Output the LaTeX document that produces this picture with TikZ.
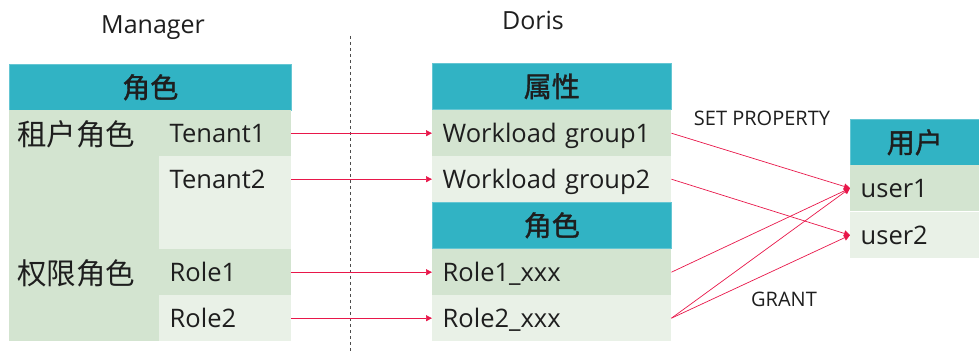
\documentclass[tikz,border=0pt]{standalone}
\usepackage{fontspec}
\setmainfont{Open Sans}
\newfontfamily\cjk{Noto Sans CJK SC}
\newfontfamily\cjkh[FakeBold=1.3]{Noto Sans CJK SC}
\usetikzlibrary{arrows.meta}
\definecolor{teal1}{HTML}{31B3C4}
\definecolor{gA}{HTML}{D3E4D0}
\definecolor{gB}{HTML}{E9F1E7}
\definecolor{arr}{HTML}{E8174A}
\definecolor{txt}{HTML}{1E1E1E}
\begin{document}
\begin{tikzpicture}[x=1pt,y=-1pt,
  hdr/.style={fill=teal1, draw=teal1!75!white, line width=0.6pt, inner sep=0pt, anchor=north west,
    minimum height=46pt, font=\cjkh\fontsize{28}{30}\selectfont, text=txt},
  cell/.style={inner xsep=10.5pt, inner ysep=0pt, anchor=north west, text=txt, align=left,
    minimum height=46pt, text height=22.2pt, text depth=4pt, font=\fontsize{25.5}{28}\selectfont},
  cA/.style={cell, fill=gA},
  cB/.style={cell, fill=gB},
  cjklab/.style={anchor=west, inner sep=0pt, text=txt, font=\cjk\fontsize{29.5}{31}\selectfont},
  title/.style={inner sep=0pt, anchor=base, text=txt, font=\fontsize{25}{28}\selectfont},
  small/.style={inner sep=0pt, anchor=base, text=txt, font=\fontsize{20}{22}\selectfont},
  link/.style={draw=arr, line width=0.7pt, -{Triangle[length=6pt,width=6pt]}}
]
\useasboundingbox (0,0) rectangle (979,352);
% titles
\node[title] (tm) at (153,34) {Manager};
\node[title] (td) at (533,30) {Doris};
\coordinate (dtop) at (350,36);
\coordinate (dbot) at (350,352);
\draw[gray!60!black, line width=0.6pt, dash pattern=on 3pt off 3pt] (dtop) -- (dbot);
% left table
\node[hdr, minimum width=282pt] (lh) at (9,64) {角色};
\fill[gA] (9,110) rectangle (159,341);
\fill[gB] (159,202) rectangle (291,249);
\node[cjklab] (zh1) at (17,134) {租户角色};
\node[cjklab] (zh2) at (17,273) {权限角色};
\node[cA, text width=111pt] (t1) at (159,110) {Tenant1};
\node[cB, text width=111pt] (t2) at (159,156) {Tenant2};
\node[cA, text width=111pt] (r1) at (159,249) {Role1};
\node[cB, text width=111pt] (r2) at (159,295) {Role2};
% middle table
\node[hdr, minimum width=239pt] (mh1) at (432,63) {属性};
\node[cA, text width=218pt] (w1) at (432,110) {Workload group1};
\node[cB, text width=218pt] (w2) at (432,156) {Workload group2};
\node[hdr, minimum width=239pt] (mh2) at (432,202) {角色};
\node[cA, text width=218pt] (x1) at (432,249) {Role1\_xxx};
\node[cB, text width=218pt] (x2) at (432,295) {Role2\_xxx};
% right table
\node[hdr, minimum width=129pt] (rh) at (850,119) {用户};
\node[cA, text width=108pt] (u1) at (850,165) {user1};
\node[cB, text width=108pt] (u2) at (850,212) {user2};
% labels
\node[small] (sp) at (762,126) {SET PROPERTY};
\node[small] (gr) at (784,307) {GRANT};
% arrows left
\draw[link] (t1.east) -- (w1.west);
\draw[link] (t2.east) -- (w2.west);
\draw[link] (r1.east) -- (x1.west);
\draw[link] (r2.east) -- (x2.west);
% arrows right
\draw[link] (w1.east) -- (u1.west);
\draw[link] (w2.east) -- (u2.west);
\draw[link] (x1.east) -- (u1.west);
\draw[link] (x2.east) -- (u1.west);
\draw[link] (x2.east) -- (u2.west);
\end{tikzpicture}
\end{document}
